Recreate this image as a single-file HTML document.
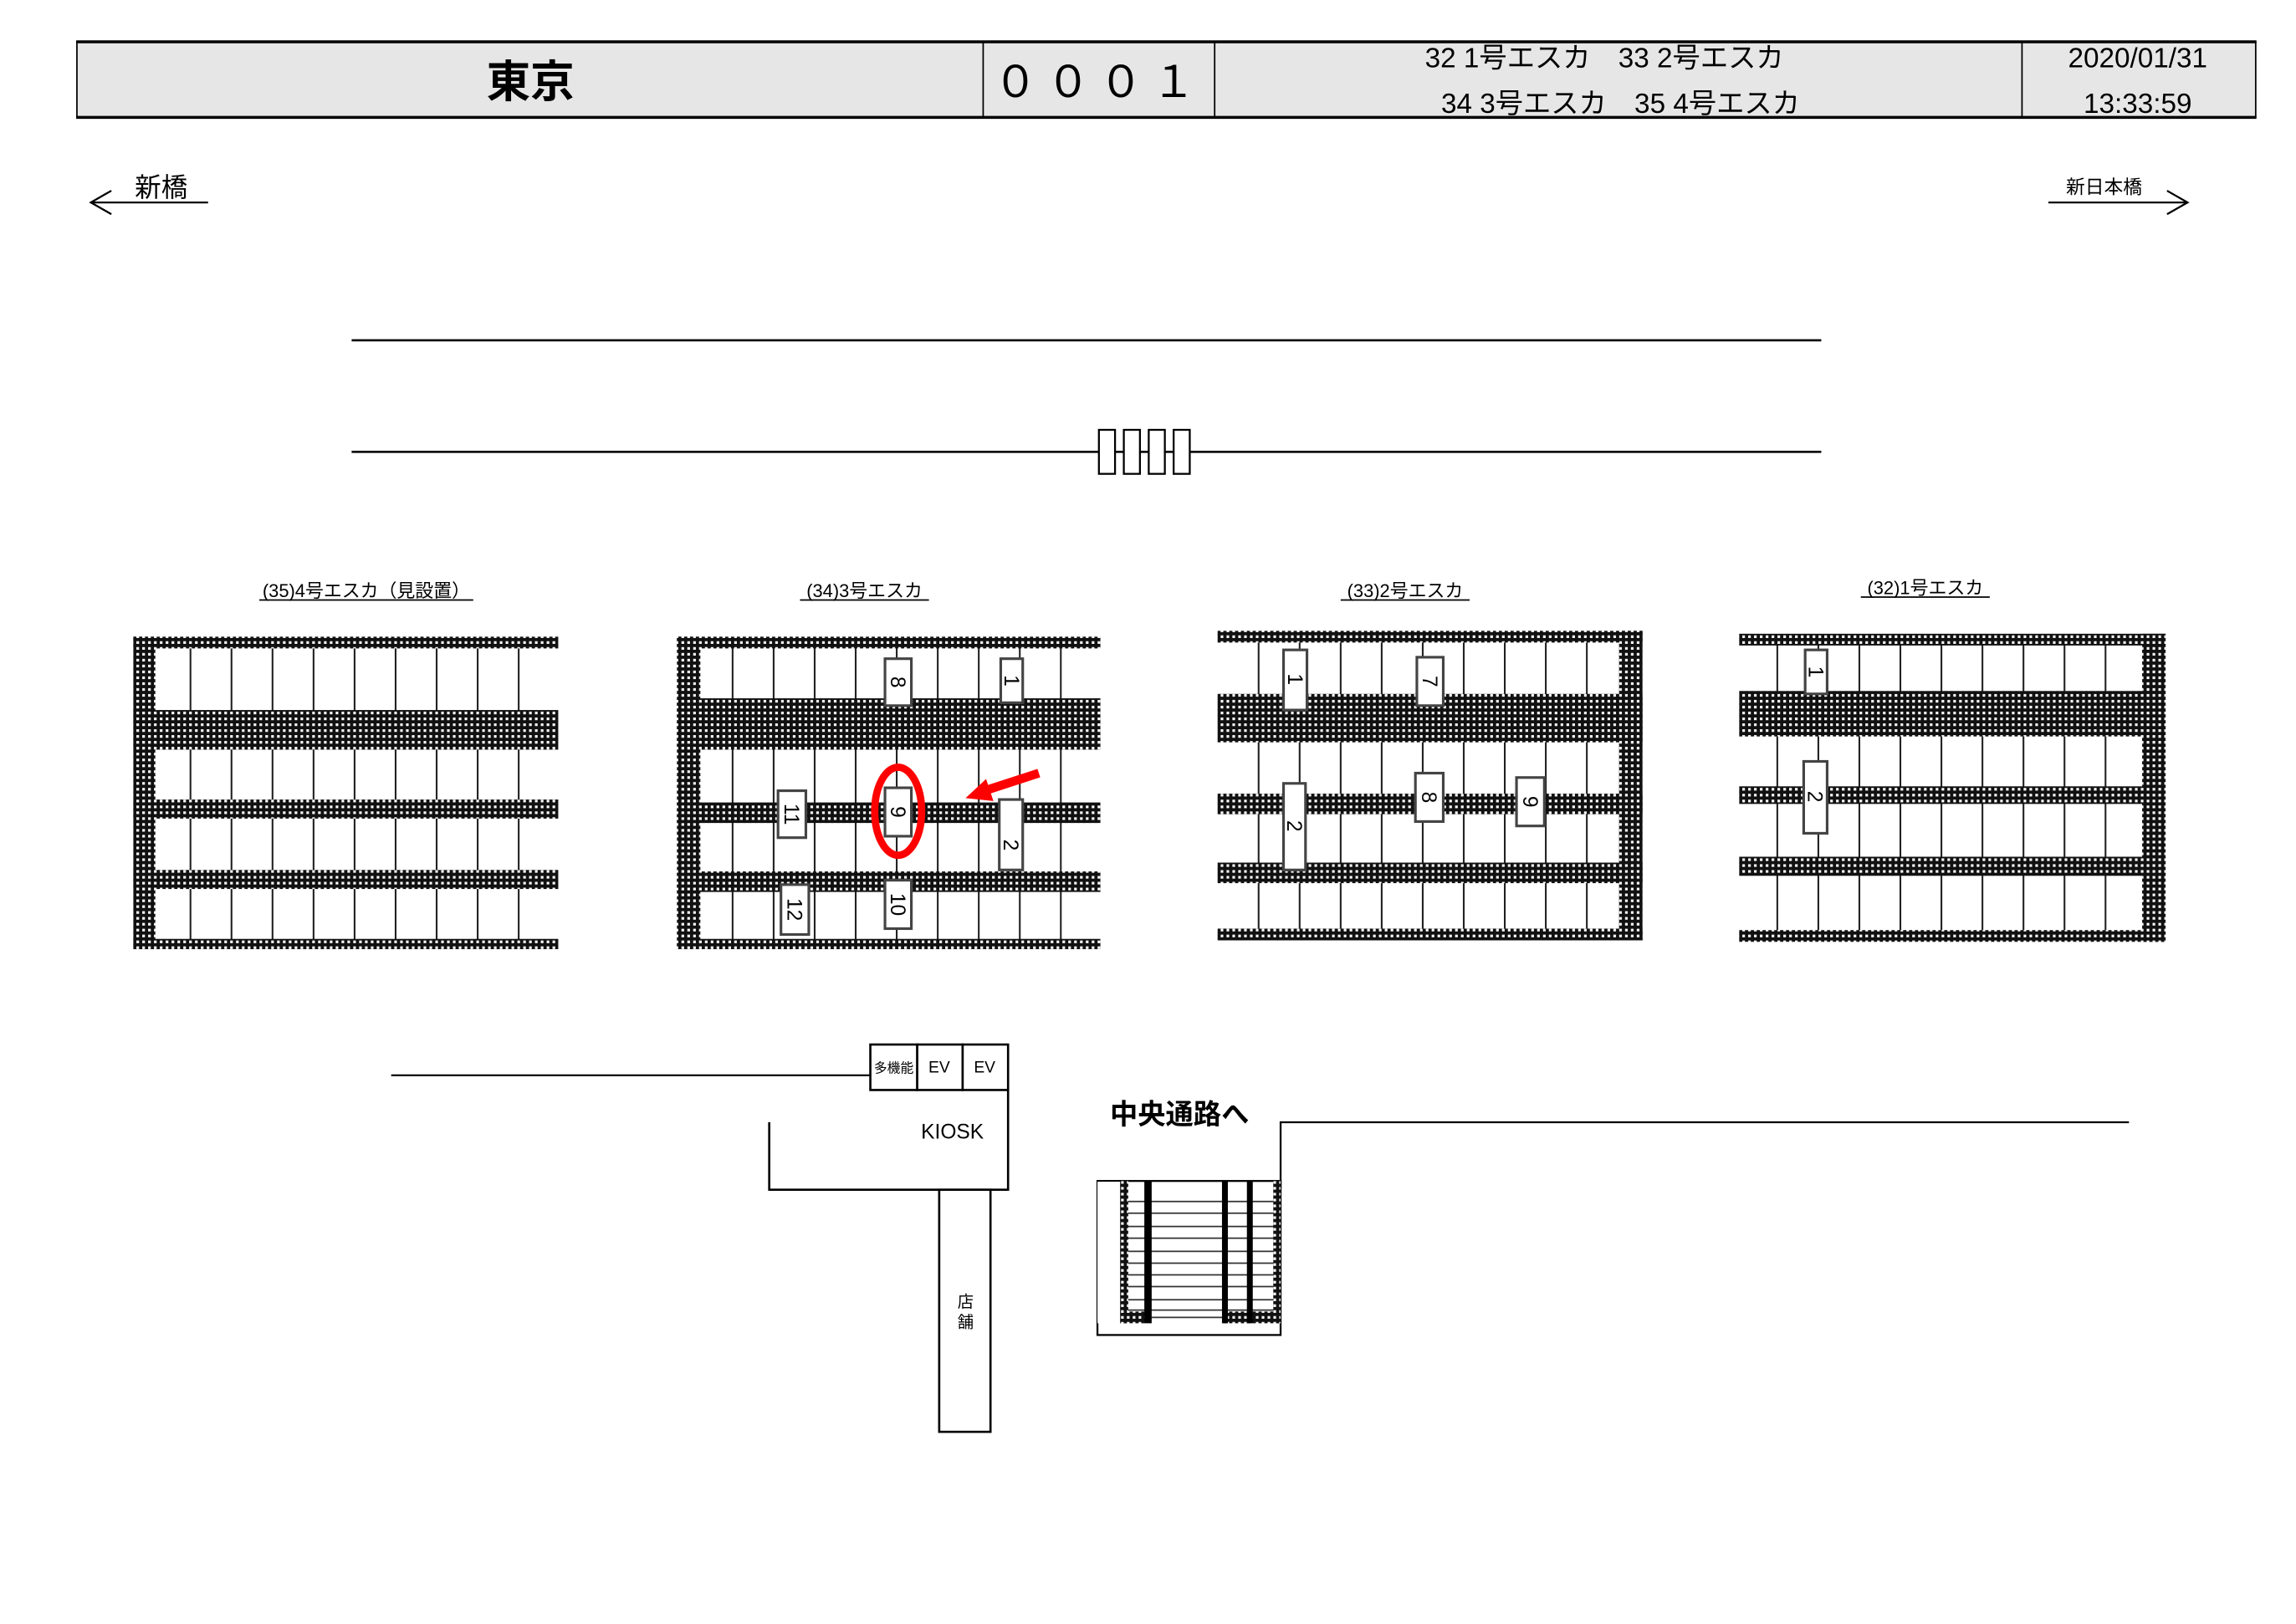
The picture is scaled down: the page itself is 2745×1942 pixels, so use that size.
<!DOCTYPE html>
<html><head><meta charset="utf-8"><style>
html,body{margin:0;padding:0;background:#fff;}
svg{display:block;}
text{font-family:"Liberation Sans","Noto Sans CJK JP",sans-serif;fill:#000;}
</style></head><body>
<svg width="2745" height="1942" viewBox="0 0 1567 1107" preserveAspectRatio="none" xmlns="http://www.w3.org/2000/svg">
<defs>
<pattern id="h" width="4" height="4" patternUnits="userSpaceOnUse">
<rect width="4" height="4" fill="#111"/><rect x="1.1" y="1.1" width="1.8" height="1.8" fill="#fff"/>
</pattern>
</defs>
<!-- header -->
<rect x="52" y="28" width="1488" height="52" fill="#e6e6e6"/>
<line x1="52" y1="28.5" x2="1540" y2="28.5" stroke="#000" stroke-width="2"/>
<line x1="52" y1="80" x2="1540" y2="80" stroke="#000" stroke-width="2"/>
<line x1="52.5" y1="28" x2="52.5" y2="80" stroke="#000"/>
<line x1="1539.5" y1="28" x2="1539.5" y2="80" stroke="#000"/>
<line x1="671" y1="28" x2="671" y2="80" stroke="#000"/>
<line x1="829" y1="28" x2="829" y2="80" stroke="#000"/>
<line x1="1380" y1="28" x2="1380" y2="80" stroke="#000"/>
<text x="362" y="66" font-size="30" font-weight="bold" text-anchor="middle">東京</text>
<text x="750" y="66" font-size="30" text-anchor="middle" letter-spacing="6">０００１</text>
<text x="1095" y="46" font-size="19" text-anchor="middle">32 1号エスカ　33 2号エスカ</text>
<text x="1106" y="77" font-size="19" text-anchor="middle">34 3号エスカ　35 4号エスカ</text>
<text x="1459" y="46" font-size="19" text-anchor="middle">2020/01/31</text>
<text x="1459" y="77" font-size="19" text-anchor="middle">13:33:59</text>
<!-- direction arrows -->
<text x="110" y="134" font-size="18" text-anchor="middle">新橋</text>
<line x1="62" y1="138" x2="142" y2="138" stroke="#000" stroke-width="1.3"/>
<polyline points="76,130 62,138 76,146" fill="none" stroke="#000" stroke-width="1.3"/>
<text x="1436" y="132" font-size="13" text-anchor="middle">新日本橋</text>
<line x1="1398" y1="138" x2="1493" y2="138" stroke="#000" stroke-width="1.3"/>
<polyline points="1479,130 1493,138 1479,146" fill="none" stroke="#000" stroke-width="1.3"/>
<!-- rails -->
<line x1="240" y1="232" x2="1243" y2="232" stroke="#000" stroke-width="1.5"/>
<line x1="240" y1="308" x2="1243" y2="308" stroke="#000" stroke-width="1.5"/>
<g fill="#fff" stroke="#000" stroke-width="1.3">
<rect x="750" y="293" width="11" height="30"/><rect x="767" y="293" width="11" height="30"/><rect x="784" y="293" width="11" height="30"/><rect x="801" y="293" width="11" height="30"/>
</g>
<!-- titles -->
<g font-size="12.5" text-anchor="middle">
<text x="250" y="407">(35)4号エスカ（見設置）</text>
<text x="590" y="407">(34)3号エスカ</text>
<text x="959" y="407">(33)2号エスカ</text>
<text x="1314" y="405">(32)1号エスカ</text>
</g>
<line x1="177" y1="409" x2="323" y2="409" stroke="#000"/>
<line x1="546" y1="409" x2="634" y2="409" stroke="#000"/>
<line x1="915" y1="409" x2="1003" y2="409" stroke="#000"/>
<line x1="1270" y1="407" x2="1358" y2="407" stroke="#000"/>
<!-- block 35 -->
<g stroke="#222" stroke-width="1.2">
<line x1="130" y1="440" x2="130" y2="642"/><line x1="158" y1="440" x2="158" y2="642"/><line x1="186" y1="440" x2="186" y2="642"/><line x1="214" y1="440" x2="214" y2="642"/><line x1="242" y1="440" x2="242" y2="642"/><line x1="270" y1="440" x2="270" y2="642"/><line x1="298" y1="440" x2="298" y2="642"/><line x1="326" y1="440" x2="326" y2="642"/><line x1="354" y1="440" x2="354" y2="642"/>
</g>
<g fill="url(#h)">
<rect x="91" y="434" width="290" height="8"/><rect x="91" y="484" width="290" height="27"/><rect x="91" y="545" width="290" height="13"/><rect x="91" y="593" width="290" height="13"/><rect x="91" y="640" width="290" height="7"/><rect x="91" y="434" width="15" height="213"/>
</g>
<!-- block 34 -->
<g stroke="#222" stroke-width="1.2">
<line x1="500" y1="440" x2="500" y2="642"/><line x1="528" y1="440" x2="528" y2="642"/><line x1="556" y1="440" x2="556" y2="642"/><line x1="584" y1="440" x2="584" y2="642"/><line x1="612" y1="440" x2="612" y2="642"/><line x1="640" y1="440" x2="640" y2="642"/><line x1="668" y1="440" x2="668" y2="642"/><line x1="696" y1="440" x2="696" y2="642"/><line x1="724" y1="440" x2="724" y2="642"/>
</g>
<g fill="url(#h)">
<rect x="462" y="434" width="289" height="8"/><rect x="462" y="476" width="289" height="35"/><rect x="462" y="547" width="289" height="14"/><rect x="462" y="594" width="289" height="14"/><rect x="462" y="640" width="289" height="7"/><rect x="462" y="434" width="16" height="213"/>
</g>
<!-- block 33 -->
<g stroke="#222" stroke-width="1.2">
<line x1="859" y1="436" x2="859" y2="636"/><line x1="887" y1="436" x2="887" y2="636"/><line x1="915" y1="436" x2="915" y2="636"/><line x1="943" y1="436" x2="943" y2="636"/><line x1="971" y1="436" x2="971" y2="636"/><line x1="999" y1="436" x2="999" y2="636"/><line x1="1027" y1="436" x2="1027" y2="636"/><line x1="1055" y1="436" x2="1055" y2="636"/><line x1="1083" y1="436" x2="1083" y2="636"/>
</g>
<g fill="url(#h)">
<rect x="831" y="430" width="290" height="8"/><rect x="831" y="473" width="290" height="33"/><rect x="831" y="541" width="290" height="14"/><rect x="831" y="588" width="290" height="14"/><rect x="831" y="633" width="290" height="8"/><rect x="1105" y="430" width="16" height="211"/>
</g>
<!-- block 32 -->
<g stroke="#222" stroke-width="1.2">
<line x1="1213" y1="438" x2="1213" y2="637"/><line x1="1241" y1="438" x2="1241" y2="637"/><line x1="1269" y1="438" x2="1269" y2="637"/><line x1="1297" y1="438" x2="1297" y2="637"/><line x1="1325" y1="438" x2="1325" y2="637"/><line x1="1353" y1="438" x2="1353" y2="637"/><line x1="1381" y1="438" x2="1381" y2="637"/><line x1="1409" y1="438" x2="1409" y2="637"/><line x1="1437" y1="438" x2="1437" y2="637"/>
</g>
<g fill="url(#h)">
<rect x="1187" y="432" width="291" height="8"/><rect x="1187" y="471" width="291" height="31"/><rect x="1187" y="536" width="291" height="12"/><rect x="1187" y="584" width="291" height="13"/><rect x="1187" y="634" width="291" height="8"/><rect x="1462" y="432" width="16" height="210"/>
</g>
<!-- label boxes -->
<g fill="#fff" stroke="#444" stroke-width="1.8">
<rect x="604" y="449" width="18" height="32"/><rect x="683" y="449" width="15" height="30"/>
<rect x="531" y="539" width="19" height="32"/><rect x="604" y="537" width="18" height="33"/>
<rect x="682" y="545" width="16" height="48"/><rect x="533" y="603" width="19" height="34"/>
<rect x="604" y="600" width="18" height="33"/>
<rect x="876" y="443" width="16" height="41"/><rect x="967" y="448" width="18" height="33"/>
<rect x="966" y="527" width="19" height="33"/><rect x="1035" y="530" width="19" height="33"/>
<rect x="876" y="534" width="15" height="59"/>
<rect x="1232" y="443" width="15" height="30"/><rect x="1231" y="519" width="16" height="49"/>
</g>
<g font-size="14" text-anchor="middle">
<text transform="translate(613,465) rotate(90)" dy="5">8</text>
<text transform="translate(690.5,464) rotate(90)" dy="5">1</text>
<text transform="translate(540.5,555) rotate(90)" dy="5">11</text>
<text transform="translate(613,553.5) rotate(90)" dy="5">9</text>
<text transform="translate(690,576) rotate(90)" dy="5">2</text>
<text transform="translate(542.5,620) rotate(90)" dy="5">12</text>
<text transform="translate(613,616.5) rotate(90)" dy="5">10</text>
<text transform="translate(884,463) rotate(90)" dy="5">1</text>
<text transform="translate(976,464.5) rotate(90)" dy="5">7</text>
<text transform="translate(975.5,543.5) rotate(90)" dy="5">8</text>
<text transform="translate(1044.5,546.5) rotate(90)" dy="5">9</text>
<text transform="translate(883.5,563) rotate(90)" dy="5">2</text>
<text transform="translate(1239.5,458) rotate(90)" dy="5">1</text>
<text transform="translate(1239,543) rotate(90)" dy="5">2</text>
</g>
<!-- highlight -->
<ellipse cx="613" cy="553" rx="16" ry="30" fill="none" stroke="#f00" stroke-width="5"/>
<line x1="709" y1="527" x2="672" y2="539" stroke="#f00" stroke-width="6"/>
<polygon points="659,544 673,531 678,546" fill="#f00"/>
<!-- bottom area -->
<line x1="267" y1="733" x2="594" y2="733" stroke="#000" stroke-width="1.3"/>
<g fill="#fff" stroke="#000" stroke-width="1.5">
<rect x="594" y="712" width="32" height="31"/><rect x="626" y="712" width="31" height="31"/><rect x="657" y="712" width="31" height="31"/>
</g>
<text x="610" y="731" font-size="9" text-anchor="middle">多機能</text>
<text x="641" y="731" font-size="11" text-anchor="middle">EV</text>
<text x="672" y="731" font-size="11" text-anchor="middle">EV</text>
<polyline points="525,765 525,811 688,811 688,743" fill="none" stroke="#000" stroke-width="1.5"/>
<text x="650" y="776" font-size="14" text-anchor="middle">KIOSK</text>
<rect x="641" y="811" width="35" height="165" fill="#fff" stroke="#000" stroke-width="1.5"/>
<text x="659" y="891" font-size="11" text-anchor="middle">店</text>
<text x="659" y="905" font-size="11" text-anchor="middle">舗</text>
<text x="805" y="766" font-size="19" font-weight="bold" text-anchor="middle">中央通路へ</text>
<polyline points="874,810 874,765 1453,765" fill="none" stroke="#000" stroke-width="1.3"/>
<!-- stairs -->
<rect x="749" y="805" width="125" height="105" fill="#fff" stroke="#000" stroke-width="1.3"/>
<rect x="749" y="805" width="16" height="97" fill="#fff" stroke="none"/>
<g stroke="#333" stroke-width="1">
<line x1="767" y1="819" x2="872" y2="819"/><line x1="767" y1="827" x2="872" y2="827"/><line x1="767" y1="836" x2="872" y2="836"/><line x1="767" y1="844" x2="872" y2="844"/><line x1="767" y1="853" x2="872" y2="853"/><line x1="767" y1="861" x2="872" y2="861"/><line x1="767" y1="869" x2="872" y2="869"/><line x1="767" y1="877" x2="872" y2="877"/><line x1="767" y1="886" x2="872" y2="886"/><line x1="767" y1="893" x2="872" y2="893"/><line x1="767" y1="898" x2="872" y2="898"/>
</g>
<polyline points="749,805 765,805 765,902" fill="none" stroke="#000" stroke-width="1"/>
<g fill="url(#h)">
<rect x="765" y="805" width="5" height="97"/><rect x="869" y="805" width="5" height="97"/><rect x="765" y="894" width="18" height="8"/><rect x="835" y="894" width="39" height="8"/>
</g>
<g fill="#000">
<rect x="781" y="805" width="5" height="97"/><rect x="834" y="805" width="4" height="97"/><rect x="851" y="805" width="4" height="97"/>
</g>
</svg>
</body></html>
